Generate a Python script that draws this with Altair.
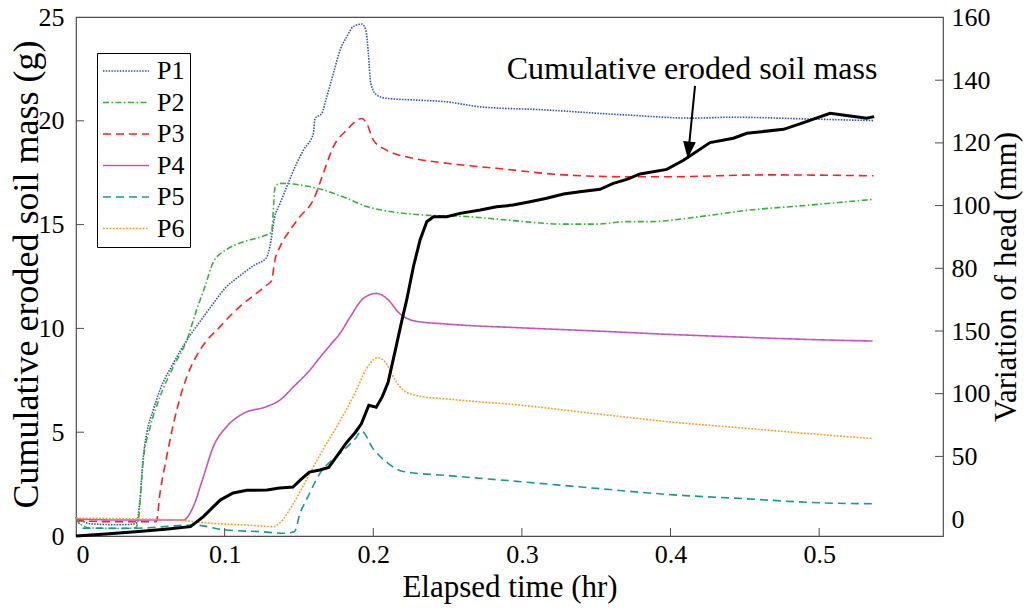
import altair as alt
import pandas as pd

FONT = "Liberation Serif"

# ---------------- data ----------------
# cumulative eroded soil mass (g) against elapsed time (hr)
mass_t = [0.000, 0.020, 0.040, 0.060, 0.077, 0.0855, 0.097, 0.1057, 0.115, 0.1285,
          0.137, 0.146, 0.151, 0.157, 0.164, 0.170, 0.176, 0.182, 0.188, 0.192,
          0.197, 0.202, 0.206, 0.210, 0.215, 0.219, 0.2225, 0.227, 0.2315, 0.236,
          0.2405, 0.2494, 0.2584, 0.272, 0.283, 0.294, 0.3055, 0.3167, 0.328, 0.339,
          0.3526, 0.3615, 0.3706, 0.3795, 0.3975, 0.4087, 0.4266, 0.4423, 0.4513, 0.476,
          0.487, 0.5074, 0.5209, 0.532, 0.537]
mass_g = [0.00, 0.10, 0.20, 0.32, 0.45, 0.92, 1.73, 2.07, 2.20, 2.22,
          2.31, 2.36, 2.70, 3.08, 3.18, 3.30, 3.90, 4.50, 5.00, 5.40,
          6.30, 6.20, 6.70, 7.40, 9.00, 10.30, 11.37, 12.97, 14.26, 15.14,
          15.38, 15.38, 15.54, 15.70, 15.86, 15.94, 16.10, 16.27, 16.47, 16.58,
          16.70, 16.99, 17.18, 17.44, 17.66, 18.10, 18.95, 19.16, 19.40, 19.59,
          19.85, 20.36, 20.23, 20.12, 20.20]

# variation of head (mm) at the six piezometers
p1_t = [0.000, 0.010, 0.030, 0.040, 0.041, 0.043, 0.0453, 0.0476, 0.052, 0.0565,
        0.0655, 0.0746, 0.0834, 0.0924, 0.100, 0.110, 0.120, 0.128, 0.1305, 0.1335,
        0.1373, 0.1418, 0.1485, 0.153, 0.1597, 0.1608, 0.1653, 0.1687, 0.1732, 0.1777,
        0.1822, 0.1866, 0.1923, 0.195, 0.1967, 0.1983, 0.2023, 0.209, 0.227, 0.2494,
        0.272, 0.3167, 0.3526, 0.3706, 0.415, 0.442, 0.487, 0.5366]
p1_h = [0.5, -1.5, -1.8, -1.5, -1.0, 6.1, 19.9, 27.4, 34.8, 41.2,
        49.7, 57.1, 63.0, 68.8, 73.5, 77.5, 81.0, 83.3, 87.0, 96.0,
        100.7, 106.0, 113.5, 117.7, 123.1, 127.8, 129.4, 134.7, 142.2, 149.6,
        153.9, 157.1, 157.9, 156.0, 148.6, 139.0, 135.3, 134.2, 133.7, 133.1,
        131.5, 130.5, 129.4, 128.9, 127.9, 128.2, 127.7, 127.1]

p2_t = [0.000, 0.004, 0.010, 0.030, 0.040, 0.042, 0.0453, 0.050, 0.0565, 0.0655,
        0.0746, 0.081, 0.087, 0.0922, 0.101, 0.110, 0.124, 0.1315, 0.134, 0.137,
        0.1507, 0.1664, 0.1822, 0.1956, 0.2113, 0.2338, 0.263, 0.2943, 0.328, 0.3504,
        0.3706, 0.3863, 0.420, 0.4536, 0.487, 0.5366]
p2_h = [0.6, -2.0, -2.8, -3.0, -2.8, 0.0, 18.9, 29.5, 39.0, 48.6,
        57.1, 66.5, 74.5, 81.8, 85.9, 88.0, 90.0, 91.5, 106.0, 107.1,
        106.6, 105.0, 102.3, 99.7, 98.1, 97.0, 96.5, 95.2, 94.1, 94.1,
        94.9, 94.9, 96.5, 98.6, 99.9, 102.0]

p3_t = [0.000, 0.020, 0.050, 0.054, 0.0565, 0.061, 0.0678, 0.0746, 0.0834, 0.0969,
        0.110, 0.120, 0.128, 0.1315, 0.134, 0.1373, 0.144, 0.1507, 0.1597, 0.1664,
        0.1732, 0.1822, 0.1923, 0.1956, 0.2001, 0.209, 0.227, 0.2494, 0.283, 0.328,
        0.3706, 0.3975, 0.4647, 0.5366]
p3_h = [-0.5, -0.8, -0.8, -0.8, 8.2, 19.9, 34.8, 45.4, 53.9, 61.4,
        67.7, 71.5, 74.5, 76.0, 83.0, 86.9, 92.2, 96.5, 101.8, 110.3,
        118.8, 124.1, 127.8, 126.2, 120.9, 117.7, 115.1, 113.5, 111.9, 109.8,
        109.2, 109.2, 109.8, 109.5]

p4_t = [0.000, 0.030, 0.060, 0.0722, 0.0789, 0.0857, 0.0924, 0.1014, 0.1126, 0.1283,
        0.1373, 0.1463, 0.1575, 0.164, 0.171, 0.178, 0.184, 0.1934, 0.2023, 0.209,
        0.218, 0.228, 0.250, 0.300, 0.350, 0.400, 0.450, 0.500, 0.536]
p4_h = [0.0, -0.3, -0.3, -0.3, 4.0, 13.5, 23.1, 29.5, 33.7, 35.9,
        38.0, 42.2, 47.6, 51.5, 55.5, 59.5, 64.1, 70.4, 72.0, 70.4,
        65.5, 63.2, 62.2, 61.0, 60.0, 58.9, 58.0, 57.2, 56.8]

p5_t = [0.000, 0.005, 0.040, 0.079, 0.1014, 0.124, 0.140, 0.147, 0.1507, 0.155,
        0.164, 0.178, 0.188, 0.192, 0.200, 0.210, 0.220, 0.250, 0.300, 0.350,
        0.400, 0.450, 0.500, 0.536]
p5_h = [0.7, -2.9, -2.9, -1.9, -3.5, -4.0, -4.5, -4.0, 1.8, 6.1,
        14.5, 21.1, 25.7, 28.1, 22.4, 17.8, 15.2, 13.9, 11.9, 9.8,
        7.8, 6.5, 5.2, 4.9]

p6_t = [0.000, 0.070, 0.079, 0.090, 0.115, 0.133, 0.137, 0.1463, 0.155, 0.164,
        0.178, 0.188, 0.195, 0.200, 0.203, 0.208, 0.2147, 0.220, 0.230, 0.250,
        0.300, 0.350, 0.400, 0.450, 0.500, 0.536]
p6_h = [0.3, -0.3, -0.8, -1.3, -1.9, -2.4, -1.3, 5.0, 12.5, 20.4,
        31.6, 40.5, 47.6, 50.8, 51.5, 50.1, 44.4, 41.2, 39.3, 38.3,
        36.3, 33.6, 31.0, 29.0, 27.0, 25.7]

series_names = ["P1", "P2", "P3", "P4", "P5", "P6"]
series_colors = ["#2f4fbf", "#36b336", "#ff2020", "#c853bd", "#17999b", "#ff9a1f"]
series_dashes = [[1.5, 1.3], [6, 2.5, 1.5, 2.5], [8, 5], [1, 0], [8, 5], [1.8, 1.5]]

# axis ticks and labels
x_tick_values = [0, 0.1, 0.2, 0.3, 0.4, 0.5]
x_inner_ticks = [0.1, 0.2, 0.3, 0.4, 0.5]
left_tick_values = [0, 5, 10, 15, 20, 25]
left_inner_ticks = [5, 10, 15, 20]
right_tick_values = [0, 20, 40, 60, 80, 100, 120, 140, 160]
right_tick_text = ["0", "50", "100", "150", "80", "100", "120", "140", "160"]
right_inner_ticks = [20, 40, 60, 80, 100, 120, 140]

# annotation: label position and arrow (time, mass)
note_text = ["Cumulative eroded soil mass"]
note_t = [0.4145]
note_g = [22.5]
arrow_t = [0.4165]
arrow_g = [21.68]
arrow_tip_t = [0.4116]
arrow_tip_g = [18.18]

# ---------------- tables ----------------
series_t = [p1_t, p2_t, p3_t, p4_t, p5_t, p6_t]
series_h = [p1_h, p2_h, p3_h, p4_h, p5_h, p6_h]
head_rows = []
for name, ts, hs in zip(series_names, series_t, series_h):
    for i, (t, h) in enumerate(zip(ts, hs)):
        head_rows.append({"series": name, "t": t, "h": h, "i": i})
head_df = pd.DataFrame(head_rows)
mass_df = pd.DataFrame({"t": mass_t, "g": mass_g})

# ---------------- scales and axes ----------------
W, H = 867, 519
FRAME = "#4d4d4d"
TICK_LEN = 8

x_scale = alt.Scale(domain=[0, 35 / 60], nice=False, zero=False)
left_scale = alt.Scale(domain=[0, 25], nice=False, zero=False)
right_scale = alt.Scale(domain=[-5.39, 160.16], nice=False, zero=False)

label_expr = " : ".join(
    f"datum.value == {v} ? '{s}'" for v, s in zip(right_tick_values, right_tick_text)
) + " : ''"

# one shared x axis definition, used by every layer that encodes time
x_axis = alt.Axis(
    orient="bottom", values=x_tick_values, format="~g",
    ticks=False, domain=False, grid=False,
    labelFont=FONT, labelFontSize=26, labelColor="black", labelPadding=5,
    title="Elapsed time (hr)", titleFont=FONT, titleFontSize=31,
    titleFontWeight="normal", titleColor="black",
    titleY=51, titleBaseline="middle",
)
left_axis = alt.Axis(
    orient="left", values=left_tick_values,
    ticks=False, domain=False, grid=False,
    labelFont=FONT, labelFontSize=26, labelColor="black", labelPadding=12,
    title="Cumulative eroded soil mass (g)", titleFont=FONT, titleFontSize=36,
    titleFontWeight="normal", titleColor="black",
    titleAngle=270, titleX=-50, titleY=257, titleAlign="center", titleBaseline="middle",
)
right_axis = alt.Axis(
    orient="right", values=right_tick_values, labelExpr=label_expr,
    ticks=False, domain=False, grid=False,
    labelFont=FONT, labelFontSize=26, labelColor="black", labelPadding=8,
    title="Variation of head (mm)", titleFont=FONT, titleFontSize=31,
    titleFontWeight="normal", titleColor="black",
    titleAngle=270, titleX=63, titleY=H / 2, titleAlign="center", titleBaseline="middle",
)

legend = alt.Legend(
    title=None, orient="none", legendX=21, legendY=36,
    symbolType="stroke", symbolSize=2116, symbolStrokeWidth=1.6,
    labelFont=FONT, labelFontSize=26, labelColor="black", labelOffset=7,
    strokeColor="black", fillColor="white", padding=5, rowPadding=5.5,
    clipHeight=26, cornerRadius=0,
)

# ---------------- head lines (right axis) ----------------
head_lines = alt.Chart(head_df).mark_line(strokeWidth=1.6, interpolate="monotone").encode(
    x=alt.X("t:Q", scale=x_scale, axis=x_axis),
    y=alt.Y("h:Q", scale=right_scale, axis=right_axis),
    color=alt.Color("series:N",
                    scale=alt.Scale(domain=series_names, range=series_colors),
                    legend=legend),
    strokeDash=alt.StrokeDash("series:N",
                              scale=alt.Scale(domain=series_names, range=series_dashes),
                              legend=legend),
    order="i:Q",
    detail="series:N",
)

right_ticks = alt.Chart(pd.DataFrame({"v": right_inner_ticks})).mark_rule(
    color=FRAME, strokeWidth=1
).encode(
    y=alt.Y("v:Q", scale=right_scale, axis=None),
    x=alt.value(W - TICK_LEN),
    x2=alt.value(W),
)

# ---------------- eroded mass (left axis) ----------------
mass_line = alt.Chart(mass_df).mark_line(color="black", strokeWidth=3).encode(
    x=alt.X("t:Q", scale=x_scale, axis=x_axis),
    y=alt.Y("g:Q", scale=left_scale, axis=left_axis),
)

left_ticks = alt.Chart(pd.DataFrame({"v": left_inner_ticks})).mark_rule(
    color=FRAME, strokeWidth=1
).encode(
    y=alt.Y("v:Q", scale=left_scale, axis=None),
    x=alt.value(0),
    x2=alt.value(TICK_LEN),
)

bottom_ticks = alt.Chart(pd.DataFrame({"v": x_inner_ticks})).mark_rule(
    color=FRAME, strokeWidth=1
).encode(
    x=alt.X("v:Q", scale=x_scale, axis=x_axis),
    y=alt.value(H - TICK_LEN),
    y2=alt.value(H),
)

note_df = pd.DataFrame({
    "text": note_text, "t": note_t, "g": note_g,
    "t0": arrow_t, "g0": arrow_g, "t1": arrow_tip_t, "g1": arrow_tip_g,
})

note_label = alt.Chart(note_df).mark_text(
    font=FONT, fontSize=32, color="black", align="center", baseline="middle"
).encode(
    x=alt.X("t:Q", scale=x_scale, axis=x_axis),
    y=alt.Y("g:Q", scale=left_scale, axis=None),
    text="text:N",
)

arrow_shaft = alt.Chart(note_df).mark_rule(color="black", strokeWidth=2).encode(
    x=alt.X("t0:Q", scale=x_scale, axis=x_axis),
    y=alt.Y("g0:Q", scale=left_scale, axis=None),
    x2="t1:Q",
    y2="g1:Q",
)

arrow_head = alt.Chart(note_df).mark_point(
    shape="M0,0L-0.75,-2L0.75,-2Z", filled=True, color="black", opacity=1,
    size=289, angle=5.8, strokeWidth=0,
).encode(
    x=alt.X("t1:Q", scale=x_scale, axis=x_axis),
    y=alt.Y("g1:Q", scale=left_scale, axis=None),
)

chart = alt.layer(
    head_lines, right_ticks, mass_line, left_ticks, bottom_ticks,
    arrow_shaft, arrow_head, note_label,
).resolve_scale(y="independent").properties(
    width=W,
    height=H,
    padding={"left": 76, "top": 17, "right": 88, "bottom": 73},
    autosize=alt.AutoSizeParams(type="none"),
    background="white",
).configure_view(stroke=FRAME, strokeWidth=1.2)

chart.save("out.html", embed_options={"renderer": "svg", "actions": False})
